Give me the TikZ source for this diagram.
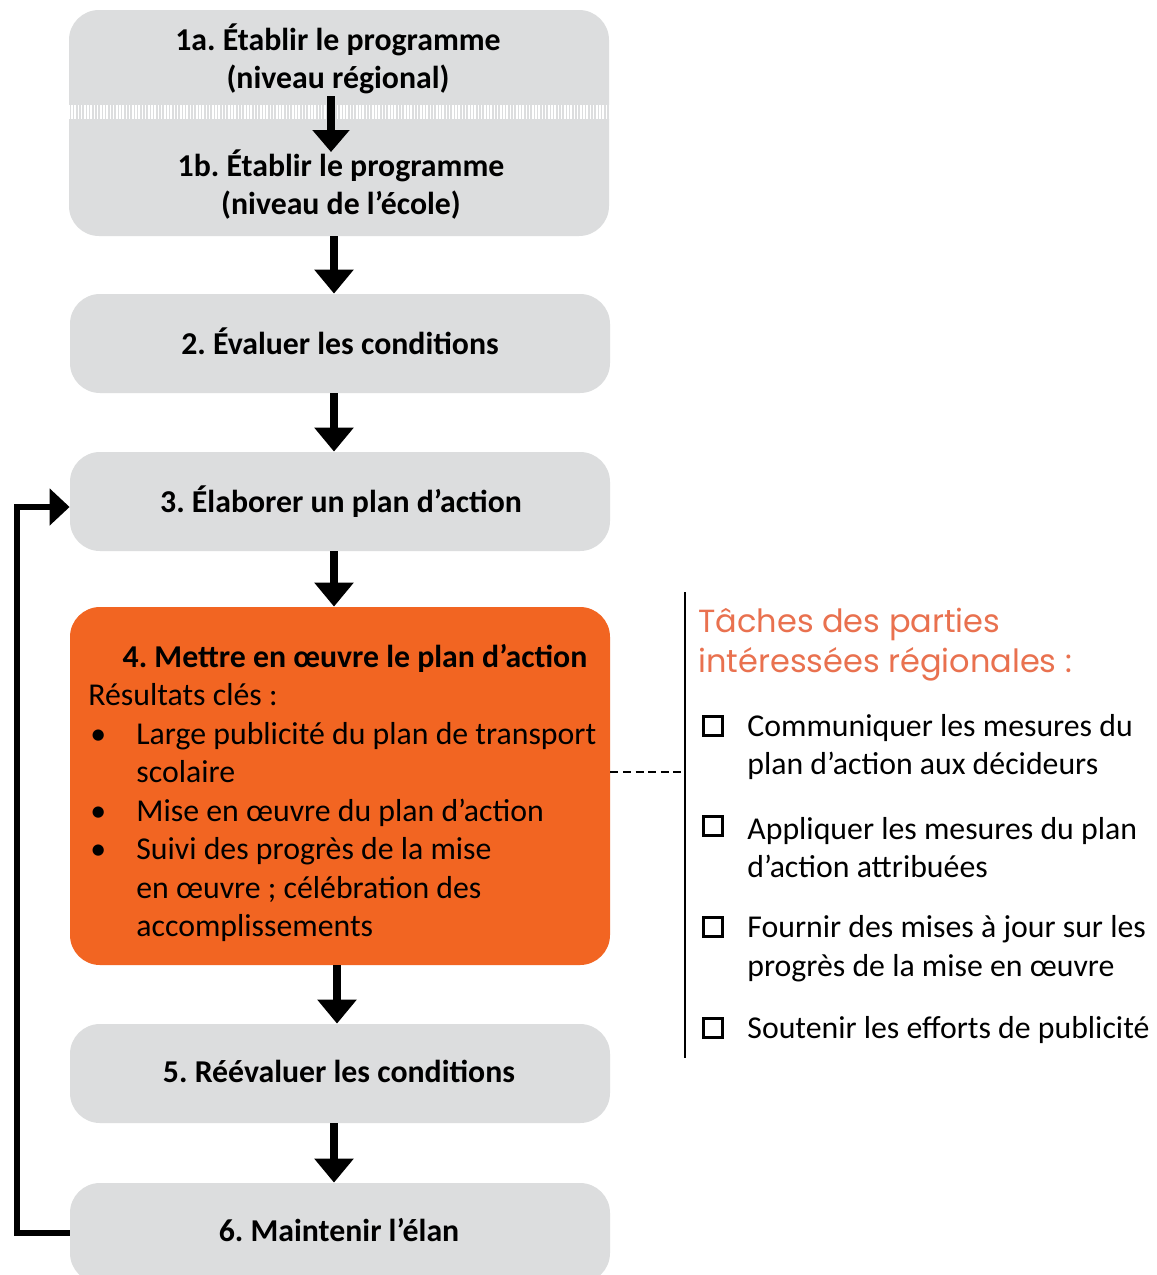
\documentclass[tikz,border=0pt]{standalone}
\usepackage{fontspec}
\setmainfont{Carlito}
\newfontfamily\headfont{Poppins}
\usetikzlibrary{arrows.meta}
\definecolor{boxgray}{HTML}{DCDDDE}
\definecolor{orangebox}{HTML}{F26522}
\definecolor{headorange}{HTML}{E9714F}
\frenchspacing
\begin{document}
\begin{tikzpicture}[x=0.5pt,y=-0.5pt,
  box/.style={rounded corners=15pt, minimum width=270pt, minimum height=49.5pt, inner sep=0pt, fill=boxgray, draw=none,
    font=\fontsize{15.9pt}{19.25pt}\selectfont\bfseries},
  txt/.style={inner sep=0pt, align=left, font=\fontsize{15.9pt}{19.25pt}\selectfont},
  btxt/.style={inner sep=0pt, align=center, font=\fontsize{15.9pt}{19pt}\selectfont\bfseries},
  flow/.style={line width=4pt, -{Triangle[width=19pt,length=12pt]}},
  loopline/.style={line width=3pt, -{Triangle[width=18pt,length=10pt]}},
  checkbox/.style={draw, line width=1.5pt, minimum size=9.5pt, inner sep=0pt},
]
\useasboundingbox (0,0) rectangle (1157,1275);
\clip (0,0) rectangle (1157,1275);
\fill[white] (0,0) rectangle (1157,1275);

% boxes
\node[box, minimum height=113pt] (b1) at (339,123) {};
\node[box] (b2) at (340,343.5) {};
\node[box] (b3) at (340,501.5) {};
\node[box, fill=orangebox, minimum height=179pt] (b4) at (340,786) {};
\node[box] (b5) at (340,1073.5) {};
\node[box, minimum height=50pt] (b6) at (340,1233) {};

\node[btxt] (t2) at (340,341) {2. Évaluer les conditions};
\node[btxt] (t3) at (341,502) {3. Élaborer un plan d’action};
\node[btxt] (t5) at (339,1071) {5. Réévaluer les conditions};
\node[btxt] (t6) at (339,1230) {6. Maintenir l’élan};

% striped separator in box 1
\coordinate (sepL) at (68,112);
\coordinate (sepR) at (610,112);
\draw[white, line width=7pt, dash pattern=on 0.8pt off 0.8pt] (sepL) -- (sepR);

\node[btxt] (t1a) at (338,59) {1a. Établir le programme\\(niveau régional)};
\node[btxt] (t1b) at (341,185) {1b. Établir le programme\\(niveau de l’école)};
\coordinate (a1s) at (331,96);
\coordinate (a1e) at (331,152);
\draw[flow, -{Triangle[width=18pt,length=11pt]}] (a1s) -- (a1e);

% main flow arrows
\coordinate (ax) at (334,0);
\coordinate (ax4) at (337,0);
\draw[flow] (ax |- b1.south) -- (ax |- b2.north);
\draw[flow] (ax |- b2.south) -- (ax |- b3.north);
\draw[flow] (ax |- b3.south) -- (ax |- b4.north);
\draw[flow] (ax4 |- b4.south) -- (ax4 |- b5.north);
\draw[flow] (ax |- b5.south) -- (ax |- b6.north);

% orange box text
\node[btxt] (t4) at (355,658) {4. Mettre en œuvre le plan d’action};
\node[txt, anchor=west] (t4body) at (88,813) {Résultats clés :\\
\makebox[24pt][l]{\hspace{1pt}•}Large publicité du plan de transport\\
\hspace*{24pt}scolaire\\
\makebox[24pt][l]{\hspace{1pt}•}Mise en œuvre du plan d’action\\
\makebox[24pt][l]{\hspace{1pt}•}Suivi des progrès de la mise\\
\hspace*{24pt}en œuvre ; célébration des\\
\hspace*{24pt}accomplissements};

% loop back arrow
\coordinate (lb) at (17,1233);
\coordinate (lt) at (17,507);
\draw[loopline] (b6.west) -- (lb) -- (lt) -- (b3.west |- lt);

% right column
\coordinate (vt) at (685,592);
\coordinate (vb) at (685,1058);
\coordinate (dl) at (685,772);
\draw[line width=1.2pt] (vt) -- (vb);
\draw[line width=1pt, dash pattern=on 4pt off 2.3pt] (b4.east |- dl) -- (dl);

\node[inner sep=0pt, anchor=west, align=left, text=headorange,
  font=\headfont\fontsize{16pt}{20pt}\selectfont] (head) at (698,645)
  {Tâches des parties\\intéressées régionales :};

\node[checkbox] (cb1) at (712.5,726) {};
\node[checkbox] (cb2) at (712.5,826) {};
\node[checkbox] (cb3) at (712.5,927) {};
\node[checkbox] (cb4) at (712.5,1028) {};

\node[txt, anchor=west] (r1) at (747,747) {Communiquer les mesures du\\plan d’action aux décideurs};
\node[txt, anchor=west] (r2) at (747,847.5) {Appliquer les mesures du plan\\d’action attribuées};
\node[txt, anchor=west] (r3) at (747,948.5) {Fournir des mises à jour sur les\\progrès de la mise en œuvre};
\node[txt, anchor=west] (r4) at (747,1030) {Soutenir les efforts de publicité};
\end{tikzpicture}
\end{document}
